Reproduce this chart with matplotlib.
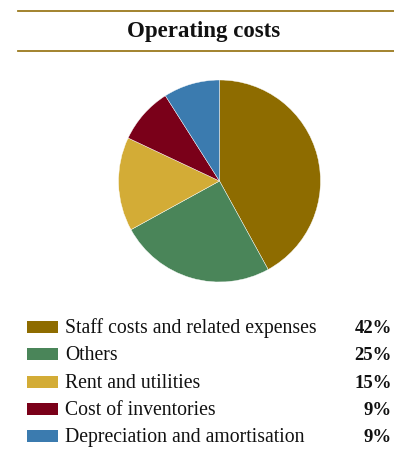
import matplotlib.pyplot as plt
from matplotlib.patches import Rectangle

labels = ["Staff costs and related expenses", "Others", "Rent and utilities",
          "Cost of inventories", "Depreciation and amortisation"]
shares = [42, 25, 15, 9, 9]
colors = ["#8E6C00", "#4A8559", "#D3AC36", "#7A0019", "#3B7BAF"]
title = "Operating costs"

W, H = 394, 463
fig = plt.figure(figsize=(W / 100, H / 100), dpi=100)
fig.patch.set_facecolor("white")
plt.rcParams["font.family"] = ["Liberation Serif", "DejaVu Serif"]

# overlay axes in pixel units for rules, title and legend
bg = fig.add_axes([0, 0, 1, 1])
bg.set_xlim(0, W)
bg.set_ylim(H, 0)
bg.axis("off")

rule = "#9B7A1E"
bg.plot([18, W], [11, 11], color=rule, lw=1.3)
bg.plot([18, W], [50.5, 50.5], color=rule, lw=1.3)
bg.text(204, 37, title, ha="center", va="baseline", fontsize=16.5,
        fontweight="bold", color="#111111")

# pie
cx, cy, r = 219.5, 181, 101
pax = fig.add_axes([(cx - r) / W, (H - cy - r) / H, 2 * r / W, 2 * r / H])
pax.pie(shares, colors=colors, startangle=90, counterclock=False,
        wedgeprops=dict(linewidth=0.3, edgecolor="white"))
pax.set_xlim(-1, 1)
pax.set_ylim(-1, 1)
pax.axis("off")

# legend rows
row_y = [327, 354.3, 381.6, 408.9, 436.2]
for y, lab, val, col in zip(row_y, labels, shares, colors):
    bg.add_patch(Rectangle((27, y - 6), 31, 12, color=col, lw=0))
    bg.text(65.5, y + 6, lab, ha="left", va="baseline", fontsize=14.2,
            color="#111111")
    bg.text(392, y + 6, f"{val}%", ha="right", va="baseline", fontsize=13.5,
            fontweight="bold", color="#111111")

fig.savefig("out.png", dpi=100)
